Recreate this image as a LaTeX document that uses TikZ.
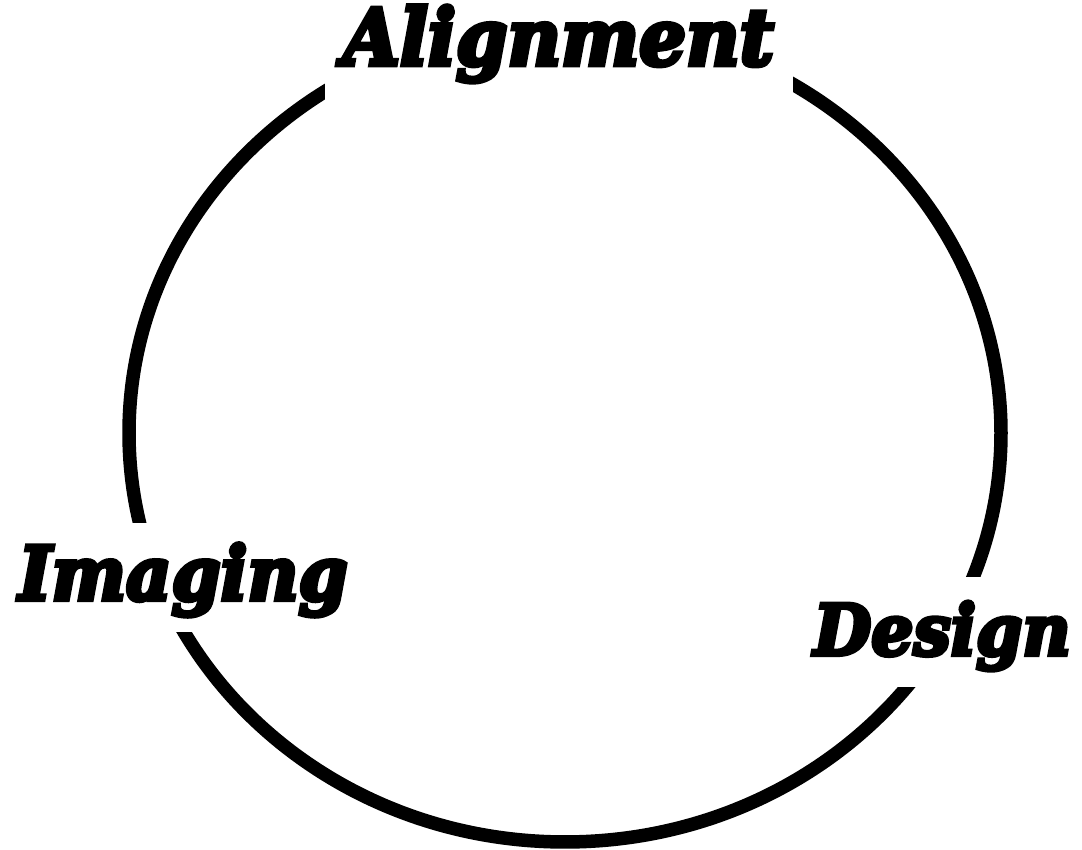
\documentclass[tikz,border=0pt]{standalone}
\usepackage{fontspec}
\usepackage{graphicx}
\newfontfamily\lab{DejaVu Serif Bold Italic}[FakeBold=6]
\tikzset{
  ring/.style={line width=0.135cm, black},
  gap/.style={fill=white, draw=none},
  lbl/.style={inner sep=0pt, anchor=base west},
}
\newcommand{\labtext}[2]{\scalebox{1}[1.06]{\resizebox{#1}{!}{\lab #2}}}
\begin{document}
\begin{tikzpicture}
\useasboundingbox (0,0) rectangle (10.82,8.5);
\coordinate (c) at (5.65,4.17);
\draw[ring] (c) ellipse [x radius=4.36, y radius=4.09];
\fill[gap] (3.25,7.30) rectangle (7.93,8.5);
\fill[gap] (0,2.18) rectangle (4.17,3.27);
\fill[gap] (7.95,1.63) rectangle (10.82,2.73);
\node[lbl] (align) at (3.42,7.85) {\labtext{4.31cm}{Alignment}};
\node[lbl] (imag) at (0.18,2.50) {\labtext{3.29cm}{Imaging}};
\node[lbl] (design) at (8.13,1.95) {\labtext{2.57cm}{Design}};
\end{tikzpicture}
\end{document}
